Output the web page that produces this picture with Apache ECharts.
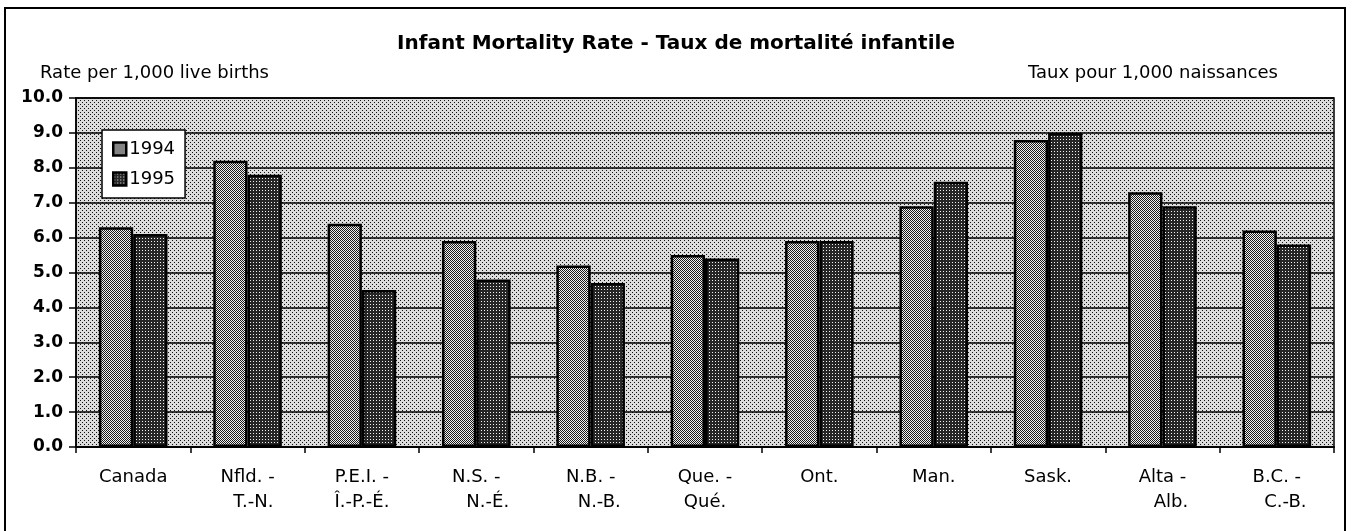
<!DOCTYPE html>
<html>
<head>
<meta charset="utf-8">
<title>Infant Mortality Rate</title>
<script src="https://cdn.jsdelivr.net/npm/echarts@6/dist/echarts.min.js"></script>
<style>
  html, body { margin: 0; padding: 0; background: #fff; }
  #chart { width: 1352px; height: 531px; }
</style>
</head>
<body>
<div id="chart"></div>
<script>
// data
const provinces = [
  "Canada", "Nfld. -\n  T.-N.", "P.E.I. -\nÎ.-P.-É.", "N.S. -\n    N.-É.",
  "N.B. -\n   N.-B.", "Que. -\nQué.", "Ont.", "Man.", "Sask.",
  "Alta -\n   Alb.", "B.C. -\n   C.-B."
];
const rate1994 = [6.3, 8.2, 6.4, 5.9, 5.2, 5.5, 5.9, 6.9, 8.8, 7.3, 6.2];
const rate1995 = [6.1, 7.8, 4.5, 4.8, 4.7, 5.4, 5.9, 7.6, 9.0, 6.9, 5.8];
const yearNames = ["1994", "1995"];
const yTicks = [0, 1, 2, 3, 4, 5, 6, 7, 8, 9, 10];

const FONT = "DejaVu Sans";

// little pixel tiles to mimic the halftone fills of the scan
function makeTile(size, base, dark, cells) {
  const c = document.createElement("canvas");
  c.width = size; c.height = size;
  const ctx = c.getContext("2d");
  ctx.fillStyle = base;
  ctx.fillRect(0, 0, size, size);
  ctx.fillStyle = dark;
  cells.forEach(([x, y]) => ctx.fillRect(x, y, 1, 1));
  return { image: c, repeat: "repeat" };
}

const bgFill = makeTile(4, "#dcdcdc", "#111", [[0, 0], [2, 2]]);
const fill94 = makeTile(2, "#efefef", "#1a1a1a", [[0, 0], [1, 1]]);
const fill95 = makeTile(3, "#262626", "#f2f2f2", [[1, 1]]);

const chart = echarts.init(document.getElementById("chart"));

const option = {
  backgroundColor: "#fff",
  animation: false,
  title: {
    text: "Infant Mortality Rate - Taux de mortalité infantile",
    left: "center",
    top: 29,
    textStyle: { fontFamily: FONT, fontSize: 20, fontWeight: "bold", color: "#000" }
  },
  legend: {
    data: yearNames,
    orient: "vertical",
    left: 102,
    top: 130,
    padding: [9, 10, 9, 10],
    itemGap: 10,
    itemWidth: 13,
    itemHeight: 13,
    backgroundColor: "#fff",
    borderColor: "#000",
    borderWidth: 1.5,
    borderRadius: 0,
    icon: "rect",
    itemStyle: { borderColor: "#000", borderWidth: 2.5 },
    textStyle: { fontFamily: FONT, fontSize: 18, color: "#000", lineHeight: 20, padding: [0, 0, 0, -2] }
  },
  grid: {
    left: 76, right: 18, top: 98, bottom: 84,
    show: true,
    backgroundColor: bgFill,
    borderColor: "#000",
    borderWidth: 1.5
  },
  xAxis: {
    type: "category",
    data: provinces,
    axisLine: { lineStyle: { color: "#000", width: 2 } },
    axisTick: { show: true, length: 6, lineStyle: { color: "#000", width: 1.5 } },
    axisLabel: {
      interval: 0,
      margin: 18,
      fontFamily: FONT,
      fontSize: 18,
      lineHeight: 25,
      color: "#000"
    }
  },
  yAxis: {
    type: "value",
    min: yTicks[0],
    max: yTicks[yTicks.length - 1],
    interval: 1,
    axisLine: { show: true, lineStyle: { color: "#000", width: 1.5 } },
    axisTick: { show: true, length: 7, lineStyle: { color: "#000", width: 1.5 } },
    axisLabel: {
      margin: 13,
      fontFamily: FONT,
      fontSize: 17,
      fontWeight: "bold",
      color: "#000",
      formatter: (v) => v.toFixed(1)
    },
    splitLine: { lineStyle: { color: "#000", width: 1.5 } }
  },
  series: [
    {
      name: yearNames[0],
      type: "bar",
      data: rate1994,
      barGap: "0%",
      barCategoryGap: "40%",
      itemStyle: { color: fill94, borderColor: "#000", borderWidth: 2.5 }
    },
    {
      name: yearNames[1],
      type: "bar",
      data: rate1995,
      itemStyle: { color: fill95, borderColor: "#000", borderWidth: 2.5 }
    }
  ],
  graphic: [
    {
      type: "rect",
      silent: true,
      shape: { x: 5, y: 8, width: 1340, height: 540 },
      style: { fill: "none", stroke: "#000", lineWidth: 2 }
    },
    {
      type: "text",
      left: 40,
      top: 64,
      style: { text: "Rate per 1,000 live births", font: "18px " + FONT, fill: "#000" }
    },
    {
      type: "text",
      right: 1352 - 1278,
      top: 64,
      style: { text: "Taux pour 1,000 naissances", font: "18px " + FONT, fill: "#000" }
    }
  ]
};

chart.setOption(option);
window.addEventListener("resize", chart.resize);
</script>
</body>
</html>
